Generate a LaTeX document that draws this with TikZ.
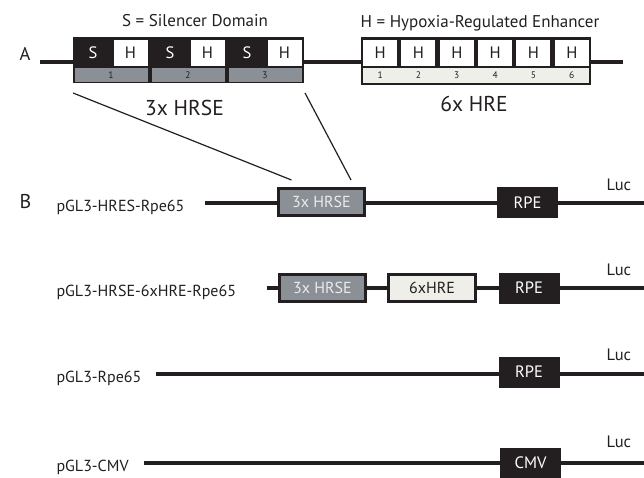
\documentclass[tikz,border=0pt]{standalone}
\usepackage{fontspec}
\setmainfont{PT Sans}
\usetikzlibrary{positioning, calc}

\definecolor{ink}{RGB}{35,31,32}
\definecolor{hrsegray}{RGB}{139,144,150}
\definecolor{hrepale}{RGB}{239,239,234}

\newcommand{\fs}[1]{\fontsize{#1}{#1}\selectfont}

\begin{document}
\begin{tikzpicture}[x=1pt, y=-1pt,
      dna/.style = {draw=ink, line width=3.2pt},
 zoomline/.style = {draw=ink, line width=1.2pt},
   ablock/.style = {rectangle, fill=ink, inner sep=0pt, outer sep=0pt},
    hcell/.style = {rectangle, fill=white, inner sep=0pt, minimum width=34pt, minimum height=26pt, text=ink, font=\fs{16.5}},
   stxt/.style = {text=white, font=\fs{16.5}},
  hrsestrip/.style = {rectangle, fill=hrsegray, inner sep=0pt, minimum width=73pt, minimum height=14pt, text=ink, font=\fs{9.5}},
  hrestrip/.style = {rectangle, fill=hrepale, inner sep=0pt, minimum width=226pt, minimum height=15pt},
   numtxt/.style = {text=ink, font=\fs{9.5}},
  hrsebox/.style = {rectangle, draw=ink, fill=hrsegray, line width=3pt, inner sep=0pt, minimum width=86pt, minimum height=27pt, text=white!92!black, font=\fs{16}},
   hrebox/.style = {rectangle, draw=ink, fill=hrepale, line width=3pt, inner sep=0pt, minimum width=87pt, minimum height=27pt, text=ink, font=\fs{16}},
    promo/.style = {rectangle, fill=ink, inner sep=0pt, minimum width=61pt, minimum height=31pt, text=white, font=\fs{16.5}},
 rowlabel/.style = {anchor=base west, text=ink, font=\fs{16}},
   luclbl/.style = {anchor=base west, text=ink, font=\fs{16.5}},
    title/.style = {anchor=base, text=ink, font=\fs{17}},
   bigtxt/.style = {anchor=base, text=ink, font=\fs{21.5}}
                    ]
\useasboundingbox (0,0) rectangle (644,477);

% panel A
\node[anchor=base west, text=ink, font=\fs{18.5}] (pa) at (16,60) {A};
\coordinate (aL) at (40,62);
\coordinate (aR) at (623,62);
\draw[dna] (aL) -- (aR);

\node[ablock, minimum width=231pt, minimum height=46pt] (hrseA) at (188.5,60) {};
\foreach \k in {1,2,3} {
  \pgfmathsetmacro\ux{73+77*(\k-1)}
  \node[stxt] (s\k) at (\ux+20,53) {S};
  \node[hcell] (h\k) at (\ux+57.5,53) {H};
  \node[hrsestrip] (n\k) at (\ux+38,75) {\k};
}
\node[ablock, minimum width=230pt, minimum height=48pt] (hreA) at (476,61) {};
\node[hrestrip] (hstrip) at (476,75.5) {};
\foreach \k in {1,...,6} {
  \node[hcell] (hh\k) at (361+38.33*\k-19.17,53) {H};
  \node[numtxt] (m\k) at (361+38.33*\k-19.17,75.5) {\k};
}

\node[title] (stitle) at (195,26.7) {S = Silencer Domain};
\node[title] (htitle) at (480,27.3) {H = Hypoxia-Regulated Enhancer};
\node[bigtxt] (hrsename) at (184.5,115) {3x HRSE};
\node[bigtxt] (hrename) at (474,111.7) {6x HRE};

% panel B
\node[anchor=base west, text=ink, font=\fs{20}] (pb) at (16,208) {B};

\coordinate (r1s) at (205,203);
\coordinate (r1e) at (646,203);
\coordinate (r2s) at (267,288);
\coordinate (r2e) at (646,288);
\coordinate (r3s) at (156,374);
\coordinate (r3e) at (646,374);
\coordinate (r4s) at (144,463);
\coordinate (r4e) at (646,463);
\draw[dna] (r1s) -- (r1e);
\draw[dna] (r2s) -- (r2e);
\draw[dna] (r3s) -- (r3e);
\draw[dna] (r4s) -- (r4e);

\node[rowlabel] (l1) at (53,211) {pGL3-HRES-Rpe65};
\node[rowlabel] (l2) at (53,296) {pGL3-HRSE-6xHRE-Rpe65};
\node[rowlabel] (l3) at (53,382) {pGL3-Rpe65};
\node[rowlabel] (l4) at (53,471.5) {pGL3-CMV};

\node[hrsebox] (b1hrse) at (321.5,202) {3x HRSE};
\node[promo] (b1rpe) at (527.5,202.5) {RPE};
\node[hrsebox] (b2hrse) at (322.5,288) {3x HRSE};
\node[hrebox] (b2hre) at (432,288) {6xHRE};
\node[promo] (b2rpe) at (529,288) {RPE};
\node[promo] (b3rpe) at (529,372) {RPE};
\node[promo] (b4cmv) at (530.5,463) {CMV};

\node[luclbl] (luc1) at (603,190) {Luc};
\node[luclbl] (luc2) at (603,275) {Luc};
\node[luclbl] (luc3) at (603,360) {Luc};
\node[luclbl] (luc4) at (603,447) {Luc};

\draw[zoomline] ($(hrseA.south west)+(0,10)$) -- ($(b1hrse.north)+(-30,-7)$);
\draw[zoomline] ($(hrseA.south east)+(1,10)$) -- ($(b1hrse.north)+(29.5,-7)$);
\end{tikzpicture}
\end{document}
